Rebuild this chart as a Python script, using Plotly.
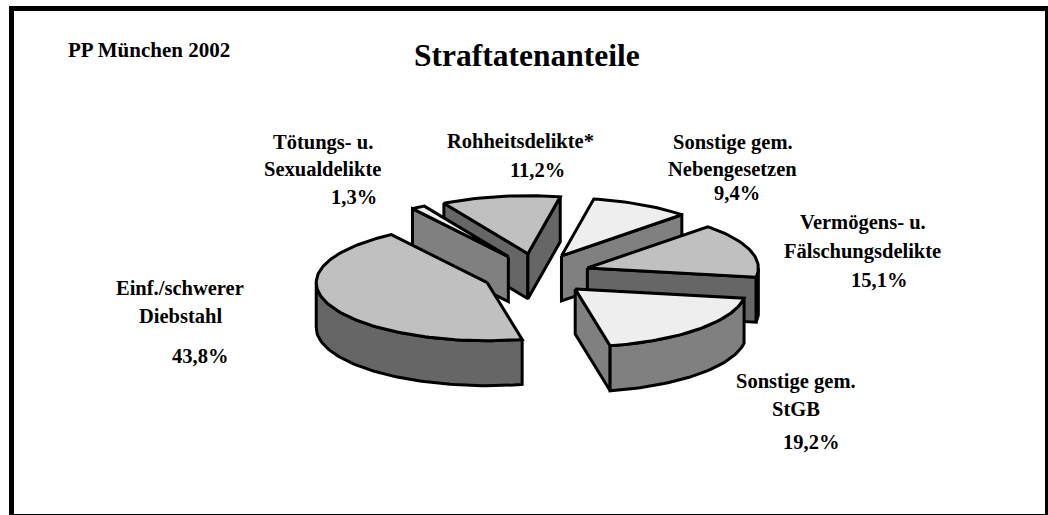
import math
import plotly.graph_objects as go

# ---- data (clockwise, starting at the back of the pie) ----
categories = ["Sonstige gem. Nebengesetzen", "Vermögens- u. Fälschungsdelikte", "Sonstige gem. StGB",
              "Einf./schwerer Diebstahl", "Tötungs- u. Sexualdelikte", "Rohheitsdelikte*"]
values = [9.4, 15.1, 19.2, 43.8, 1.3, 11.2]
title_text = "Straftatenanteile"
subtitle_text = "PP München 2002"
label_lines = [["Sonstige gem.", "Nebengesetzen"], ["Vermögens- u.", "Fälschungsdelikte"], ["Sonstige gem.", "StGB"],
               ["Einf./schwerer", "Diebstahl"], ["Tötungs- u.", "Sexualdelikte"], ["Rohheitsdelikte*"]]

# ---- styling / projection ----
W, H = 1048, 515
CX, CY = 536.5, 274.5
RX, RY = 171, 58
DEPTH = 45
EXPLODE_X, EXPLODE_Y = 53.5, 21
START = 10.9
LIGHT, MID = "#eeeeee", "#c0c0c0"
SIDE_L, SIDE_D = "#808080", "#666666"
top_colors = [LIGHT, MID, LIGHT, MID, LIGHT, MID]
side_colors = [SIDE_L, SIDE_D, SIDE_L, SIDE_D, SIDE_L, SIDE_D]
draw_order = [5, 4, 0, 1, 3, 2]
# text anchor (centre x, centre y) of each label line, then the percentage line
label_pos = [[(733, 142), (732.5, 169), (737, 193)],
             [(862.5, 222), (862.5, 251), (879, 280)],
             [(796, 381), (796, 409), (811, 442)],
             [(179.5, 288), (180, 316), (200, 356)],
             [(322.5, 142), (322.5, 169), (354, 197)],
             [(520, 141), (537, 170)]]


def pt(ax, ay, deg, z=0.0):
    t = math.radians(deg)
    return ax + RX * math.sin(t), ay - RY * math.cos(t) + z


def arc(ax, ay, a, b, z=0.0):
    n = max(2, int(abs(b - a) / 1.5) + 1)
    return [pt(ax, ay, a + (b - a) * i / (n - 1), z) for i in range(n)]


def poly(fig, pts, color):
    xs = [p[0] for p in pts] + [pts[0][0]]
    ys = [p[1] for p in pts] + [pts[0][1]]
    fig.add_trace(go.Scatter(x=xs, y=ys, mode="lines", fill="toself", fillcolor=color,
                             line=dict(color="black", width=3), hoverinfo="skip", showlegend=False))


fig = go.Figure()
spans, a = [], START
for v in values:
    b = a + v * 3.6
    spans.append((a, b))
    a = b

for i in draw_order:
    a, b = spans[i]
    mid = math.radians((a + b) / 2)
    ax = CX + EXPLODE_X * math.sin(mid)
    ay = CY - EXPLODE_Y * math.cos(mid)
    for wall_angle, visible in ((a, math.sin(math.radians(a)) < 0), (b, math.sin(math.radians(b)) > 0)):
        if visible:
            r = pt(ax, ay, wall_angle)
            poly(fig, [(ax, ay), r, (r[0], r[1] + DEPTH), (ax, ay + DEPTH)], side_colors[i])
    lo, hi = max(a, 90), min(b, 270)
    if hi > lo:
        poly(fig, arc(ax, ay, lo, hi) + arc(ax, ay, hi, lo, DEPTH), side_colors[i])
    poly(fig, [(ax, ay)] + arc(ax, ay, a, b), top_colors[i])

FONT = "Liberation Serif"


def text(x, y, s, size, anchor="center"):
    fig.add_annotation(x=x, y=y, text=f"<b>{s}</b>", showarrow=False, xanchor=anchor, yanchor="middle",
                       font=dict(family=FONT, size=size, color="black"))


for i, lines in enumerate(label_lines):
    rows = lines + [f"{values[i]:.1f}%".replace(".", ",")]
    for s, (x, y) in zip(rows, label_pos[i]):
        text(x, y, s, 20.5)
text(526.5, 55, title_text, 31.5)
text(149, 50, subtitle_text, 21)

for x0, y0, x1, y1 in [(9, 6, 14, 515), (9, 6, 1048, 11), (1045, 6, 1048, 515), (9, 514, 1048, 515)]:
    fig.add_shape(type="rect", x0=x0, y0=y0, x1=x1, y1=y1, fillcolor="black", line_width=0, layer="above")

fig.update_xaxes(range=[0, W], visible=False, fixedrange=True)
fig.update_yaxes(range=[H, 0], visible=False, fixedrange=True)
fig.update_layout(width=W, height=H, margin=dict(l=0, r=0, t=0, b=0), paper_bgcolor="white",
                  plot_bgcolor="white", showlegend=False)
fig.write_html("out.html", config={"displayModeBar": False},
               post_script="document.body.style.margin='0';document.body.style.overflow='hidden';")
